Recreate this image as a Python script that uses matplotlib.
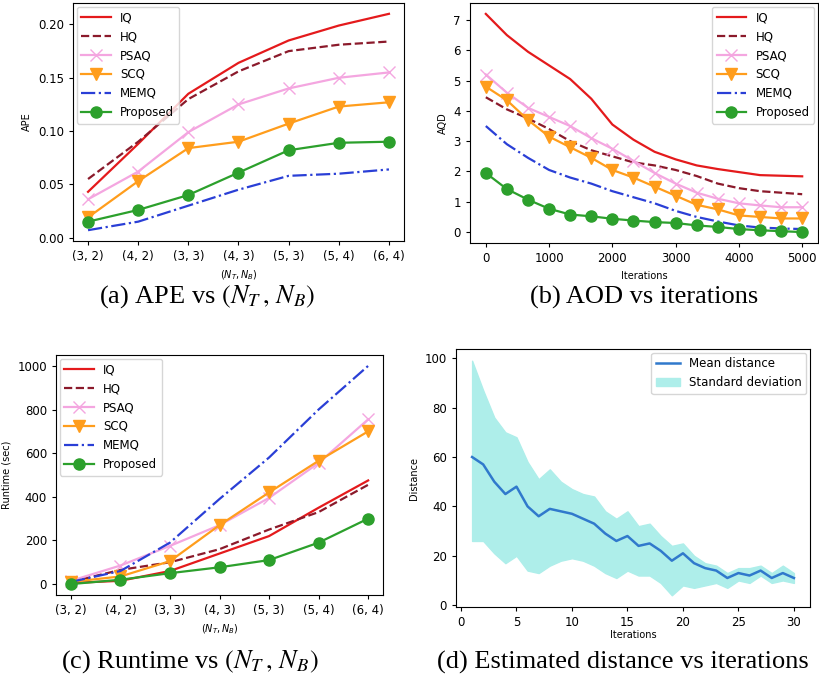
import matplotlib
matplotlib.use('Agg')
import matplotlib.pyplot as plt

# Data
configs = ['(3, 2)', '(4, 2)', '(3, 3)', '(4, 3)', '(5, 3)', '(5, 4)', '(6, 4)']
methods = ['IQ', 'HQ', 'PSAQ', 'SCQ', 'MEMQ', 'Proposed']

ape_iq = [0.043, 0.088, 0.135, 0.164, 0.185, 0.199, 0.210]
ape_hq = [0.055, 0.090, 0.130, 0.156, 0.175, 0.181, 0.184]
ape_psaq = [0.036, 0.062, 0.099, 0.125, 0.140, 0.150, 0.155]
ape_scq = [0.019, 0.053, 0.084, 0.090, 0.107, 0.123, 0.127]
ape_memq = [0.007, 0.015, 0.030, 0.045, 0.058, 0.060, 0.064]
ape_prop = [0.015, 0.026, 0.040, 0.061, 0.082, 0.089, 0.090]

iters = [0, 333, 667, 1000, 1333, 1667, 2000, 2333, 2667, 3000, 3333, 3667, 4000, 4333, 4667, 5000]
aqd_iq = [7.2, 6.5, 5.95, 5.5, 5.05, 4.4, 3.55, 3.05, 2.65, 2.4, 2.2, 2.08, 1.98, 1.88, 1.86, 1.84]
aqd_hq = [4.45, 4.05, 3.75, 3.4, 3.0, 2.7, 2.5, 2.3, 2.2, 2.05, 1.85, 1.6, 1.45, 1.35, 1.3, 1.25]
aqd_psaq = [5.2, 4.6, 4.1, 3.8, 3.5, 3.1, 2.75, 2.35, 1.95, 1.6, 1.3, 1.1, 0.95, 0.88, 0.82, 0.82]
aqd_scq = [4.8, 4.35, 3.7, 3.15, 2.8, 2.45, 2.05, 1.8, 1.5, 1.2, 0.9, 0.75, 0.55, 0.5, 0.45, 0.45]
aqd_memq = [3.5, 2.9, 2.45, 2.05, 1.8, 1.6, 1.35, 1.15, 0.95, 0.7, 0.5, 0.35, 0.22, 0.15, 0.12, 0.1]
aqd_prop = [1.95, 1.42, 1.07, 0.77, 0.58, 0.52, 0.44, 0.38, 0.33, 0.3, 0.22, 0.17, 0.1, 0.06, 0.03, 0.0]

rt_iq = [5, 15, 60, 140, 220, 350, 475]
rt_hq = [10, 65, 100, 160, 250, 330, 455]
rt_psaq = [15, 85, 175, 270, 395, 555, 755]
rt_scq = [10, 35, 105, 270, 420, 565, 700]
rt_memq = [10, 60, 190, 390, 580, 800, 1000]
rt_prop = [0, 20, 50, 77, 110, 190, 300]

dist_iter = list(range(1, 31))
dist_mean = [60, 57, 50, 45, 48, 40, 36, 39, 38, 37, 35, 33, 29, 26, 28,
             24, 25, 22, 18, 21, 17, 15, 14, 11, 13, 12, 14, 11, 13, 11]
dist_upper = [99, 87, 76, 70, 68, 58, 51, 55, 50, 47, 45, 44, 38, 35, 38,
              32, 33, 28, 24, 25, 20, 17, 16, 13, 15, 15, 16, 13, 16, 13]
dist_lower = [26, 26, 21, 17, 20, 14, 13, 16, 18, 19, 18, 16, 13, 11, 14,
              12, 12, 9, 4, 8, 7, 8, 9, 7, 10, 9, 12, 9, 10, 9]

# Styles per method
styles = {
    'IQ': dict(color='#e41a1c', ls='-', marker=None),
    'HQ': dict(color='#8b1a2b', ls='--', marker=None),
    'PSAQ': dict(color='#f4a6e0', ls='-', marker='x', ms=8),
    'SCQ': dict(color='#ff9d1c', ls='-', marker='v', ms=8),
    'MEMQ': dict(color='#2a3fd6', ls='-.', marker=None),
    'Proposed': dict(color='#2ca02c', ls='-', marker='o', ms=8),
}

plt.rcParams['font.family'] = ['DejaVu Sans']
plt.rcParams['font.size'] = 8.5
plt.rcParams['mathtext.fontset'] = 'dejavusans'

fig = plt.figure(figsize=(8.2, 6.77), dpi=100)
W, H = 820, 677


def add_ax(l, t, r, b):
    return fig.add_axes([l / W, 1 - b / H, (r - l) / W, (b - t) / H])


def draw_methods(ax, x, series):
    for name, y in zip(methods, series):
        s = styles[name]
        ax.plot(x, y, color=s['color'], ls=s['ls'], marker=s['marker'],
                ms=s.get('ms', 6), lw=1.6, label=name)


ax_a = add_ax(73, 3, 404, 241)
ax_b = add_ax(470, 3, 818, 243)
ax_c = add_ax(56, 355, 383, 595)
ax_d = add_ax(456, 349, 810, 607)

xa = list(range(len(configs)))

draw_methods(ax_a, xa, [ape_iq, ape_hq, ape_psaq, ape_scq, ape_memq, ape_prop])
ax_a.set_xticks(xa)
ax_a.set_xticklabels(configs)
ax_a.set_yticks([0.0, 0.05, 0.10, 0.15, 0.20])
ax_a.set_yticklabels(['0.00', '0.05', '0.10', '0.15', '0.20'])
ax_a.set_ylabel('APE', fontsize=7)
ax_a.set_xlabel(r'$(N_T, N_B)$', fontsize=7)
ax_a.legend(loc='upper left', fontsize=8.5, borderaxespad=0.3, handlelength=2.5)

draw_methods(ax_b, iters, [aqd_iq, aqd_hq, aqd_psaq, aqd_scq, aqd_memq, aqd_prop])
ax_b.set_yticks(range(0, 8))
ax_b.set_xticks([0, 1000, 2000, 3000, 4000, 5000])
ax_b.set_ylabel('AQD', fontsize=7)
ax_b.set_xlabel('Iterations', fontsize=7)
ax_b.legend(loc='upper right', fontsize=8.5, borderaxespad=0.3, handlelength=2.5)

draw_methods(ax_c, xa, [rt_iq, rt_hq, rt_psaq, rt_scq, rt_memq, rt_prop])
ax_c.set_xticks(xa)
ax_c.set_xticklabels(configs)
ax_c.set_yticks([0, 200, 400, 600, 800, 1000])
ax_c.set_ylabel('Runtime (sec)', fontsize=7)
ax_c.set_xlabel(r'$(N_T, N_B)$', fontsize=7)
ax_c.legend(loc='upper left', fontsize=8.5, borderaxespad=0.3, handlelength=2.5)

ax_d.fill_between(dist_iter, dist_lower, dist_upper, color='#aeeeea',
                  label='Standard deviation')
ax_d.plot(dist_iter, dist_mean, color='#3079cc', lw=1.8, label='Mean distance')
ax_d.set_xticks([0, 5, 10, 15, 20, 25, 30])
ax_d.set_yticks([0, 20, 40, 60, 80, 100])
ax_d.set_ylabel('Distance', fontsize=7)
ax_d.set_xlabel('Iterations', fontsize=7, labelpad=1)
h, l = ax_d.get_legend_handles_labels()
ax_d.legend(h[::-1], l[::-1], loc='upper right', fontsize=8.5, borderaxespad=0.3)

for ax in (ax_a, ax_b, ax_c, ax_d):
    ax.tick_params(labelsize=8.5, length=3)

cap = dict(fontsize=19, family='Liberation Serif', ha='center', va='center')
fig.text(207 / W, 1 - 297 / H, r'(a) APE vs $(N_T\,,\,N_B)$', math_fontfamily='stix', **cap)
fig.text(644 / W, 1 - 297 / H, '(b) AOD vs iterations', **cap)
fig.text(190 / W, 1 - 662 / H, r'(c) Runtime vs $(N_T\,,\,N_B)$', math_fontfamily='stix', **cap)
fig.text(623 / W, 1 - 662 / H, '(d) Estimated distance vs iterations', **cap)

fig.savefig('out.png', dpi=100)
